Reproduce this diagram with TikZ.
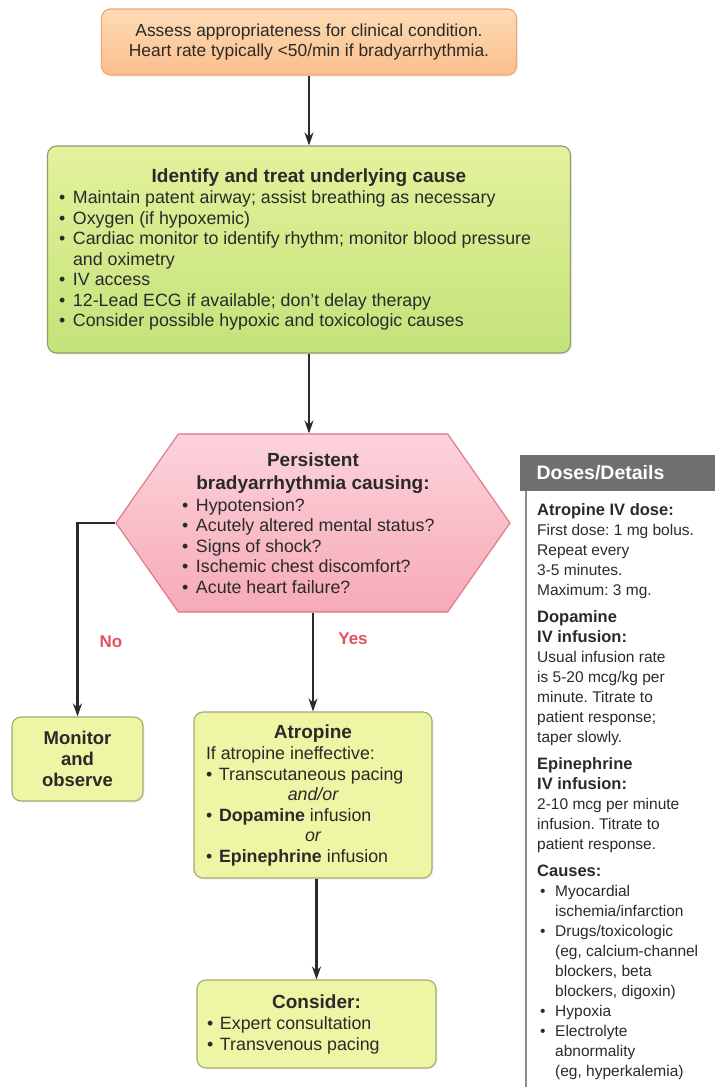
\documentclass[tikz,border=0pt]{standalone}
\usepackage{fontspec}
\setmainfont{Liberation Sans}
\usetikzlibrary{positioning,shapes.symbols,arrows.meta,shadows}

\definecolor{orangetop}{HTML}{FDDCB6}
\definecolor{orangebot}{HTML}{FBBE8C}
\definecolor{orangeline}{HTML}{F2A676}
\definecolor{greentop}{HTML}{E4F29C}
\definecolor{greenbot}{HTML}{C3E27A}
\definecolor{greenline}{HTML}{8E9C6C}
\definecolor{pinktop}{HTML}{FCD3DB}
\definecolor{pinkbot}{HTML}{F6AAB7}
\definecolor{pinkline}{HTML}{DE7484}
\definecolor{palefill}{HTML}{EEF5A4}
\definecolor{paleline}{HTML}{A0AA74}
\definecolor{answer}{HTML}{E2525C}
\definecolor{headgray}{HTML}{6E6F71}
\definecolor{ink}{HTML}{2A2A2A}

% bullet line with hanging indent
\newcommand{\bpt}[2][14pt]{\par\hangindent=#1\hangafter=1\noindent\makebox[#1][l]{\textbullet}#2}
\newcommand{\cpt}[1]{\par\hangindent=18pt\hangafter=1\noindent\makebox[18pt][l]{\hspace*{3pt}\textbullet}#1}
\newcommand{\boxhead}[1]{{\fontsize{19}{23}\selectfont\bfseries #1\par}\vspace{1pt}}
\newcommand{\sidehead}[1]{{\fontsize{16.5}{19.5}\selectfont\bfseries #1}}

\begin{document}
\frenchspacing
\begin{tikzpicture}[
	x=1pt, y=-1pt,
	>={Stealth[length=13pt,width=9pt]},
	txt/.style = {font=\fontsize{17.8}{20.5}\selectfont, text=ink},
	box/.style = {draw, rounded corners=9pt, line width=1.1pt, inner sep=0pt, txt,
		drop shadow={opacity=0.12, shadow xshift=1.5pt, shadow yshift=-1.5pt}},
	assessbox/.style = {box, draw=orangeline, top color=orangetop, bottom color=orangebot},
	causebox/.style = {box, draw=greenline, top color=greentop, bottom color=greenbot},
	stepbox/.style = {box, draw=paleline, fill=palefill},
	cond/.style = {signal, signal to=east and west, signal pointer angle=110,
		draw=pinkline, line width=1.1pt, top color=pinktop, bottom color=pinkbot,
		inner sep=0pt, txt},
	ans/.style = {font=\fontsize{17}{20}\selectfont\bfseries, text=answer},
	flow/.style = {->, line width=2.2pt, draw=ink}
]
	\useasboundingbox (0,0) rectangle (715,1087);

	\node[assessbox, minimum width=415pt, minimum height=66pt, align=center,
		font=\fontsize{17.4}{20}\selectfont] (assess) at (309,42)
		{Assess appropriateness for clinical condition.\\Heart rate typically <50/min if bradyarrhythmia.};

	\node[causebox, minimum width=523pt, minimum height=207pt] (cause) at (309,249.5)
		{\parbox{500pt}{\centering\boxhead{Identify and treat underlying cause}\raggedright
		\bpt{Maintain patent airway; assist breathing as necessary}
		\bpt{Oxygen (if hypoxemic)}
		\bpt{Cardiac monitor to identify rhythm; monitor blood pressure\newline and oximetry}
		\bpt{IV access}
		\bpt{12-Lead ECG if available; don't delay therapy}
		\bpt{Consider possible hypoxic and toxicologic causes}}};

	\node[cond, minimum width=394pt, minimum height=178pt] (persist) at (313,523)
		{\parbox{262pt}{\centering\boxhead{Persistent\\bradyarrhythmia causing:}\raggedright
		\bpt{Hypotension?}
		\bpt{Acutely altered mental status?}
		\bpt{Signs of shock?}
		\bpt{Ischemic chest discomfort?}
		\bpt{Acute heart failure?}}};

	\node[stepbox, minimum width=131pt, minimum height=84pt, align=center,
		font=\fontsize{18.5}{21}\selectfont\bfseries] (monitor) at (77.5,759)
		{Monitor\\and\\observe};

	\node[stepbox, minimum width=238pt, minimum height=166pt] (atropine) at (313,795)
		{\parbox{214pt}{\centering\boxhead{Atropine}\raggedright
		If atropine ineffective:
		\bpt[13pt]{Transcutaneous pacing}
		\par\centerline{\itshape and/or}
		\bpt[13pt]{\textbf{Dopamine} infusion}
		\par\centerline{\itshape or}
		\bpt[13pt]{\textbf{Epinephrine} infusion}}};

	\node[stepbox, minimum width=239pt, minimum height=88pt] (consider) at (316.5,1024)
		{\parbox{219pt}{\centering\boxhead{Consider:}\raggedright
		\bpt[13pt]{Expert consultation}
		\bpt[13pt]{Transvenous pacing}}};

	% connectors
	\draw[flow] (assess) -- (cause);
	\draw[flow] (cause) -- (cause |- persist.north);
	\draw[flow] (persist.west) -| (monitor.north);
	\draw[flow] (persist.south) -- (atropine.north);
	\draw[flow] (atropine.south -| consider.north) -- (consider.north);

	\node[ans] (no) at (111,642) {No};
	\node[ans] (yes) at (353,639) {Yes};

	% side panel
	\node[fill=headgray, minimum width=195pt, minimum height=36pt, inner sep=0pt] (head) at (617.5,473) {};
	\node[anchor=west, text=white, font=\fontsize{19.5}{22}\selectfont\bfseries] (headtxt) at (533,473) {Doses/Details};
	\coordinate (rail) at (526,1087);
	\draw[headgray!80, line width=1.6pt] (head.south west -| rail) -- (rail);
	\node[anchor=north west, inner sep=0pt, txt] (details) at (537,503)
		{\parbox{178pt}{\raggedright\fontsize{15.5}{20}\selectfont
		\sidehead{Atropine IV dose:}\\
		First dose: 1 mg bolus.\\
		Repeat every\\
		3-5 minutes.\\
		Maximum: 3 mg.\par\vspace{7pt}
		\sidehead{Dopamine}\\
		\sidehead{IV infusion:}\\
		Usual infusion rate\\
		is 5-20 mcg/kg per\\
		minute. Titrate to\\
		patient response;\\
		taper slowly.\par\vspace{7pt}
		\sidehead{Epinephrine}\\
		\sidehead{IV infusion:}\\
		2-10 mcg per minute\\
		infusion. Titrate to\\
		patient response.\par\vspace{7pt}
		\sidehead{Causes:}
		\cpt{Myocardial\newline ischemia/infarction}
		\cpt{Drugs/toxicologic\newline (eg, calcium-channel\newline blockers, beta\newline blockers, digoxin)}
		\cpt{Hypoxia}
		\cpt{Electrolyte\newline abnormality\newline (eg, hyperkalemia)}}};
\end{tikzpicture}
\end{document}
